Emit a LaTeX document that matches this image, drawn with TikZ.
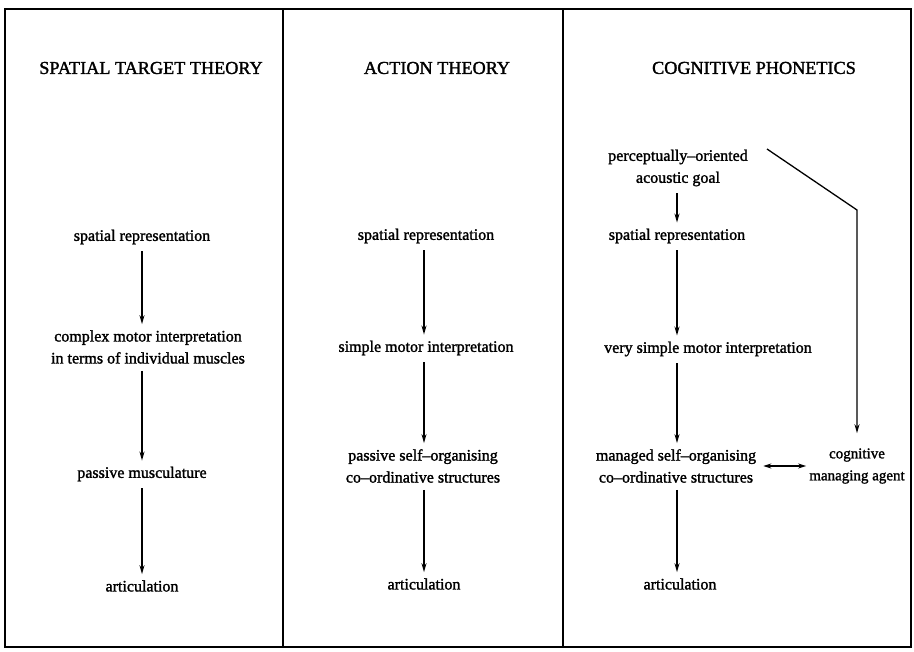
\documentclass[tikz,border=0pt]{standalone}
\usepackage{fontspec}
\setmainfont{Liberation Serif}
\newfontfamily\heavyserif[FakeBold=1.6,Ligatures=TeX]{Liberation Serif}
\usetikzlibrary{arrows.meta}
\begin{document}
\begin{tikzpicture}[x=1pt,y=-1pt,
  lbl/.style={inner sep=1pt,font=\heavyserif\fontsize{16}{22}\selectfont,align=center},
  head/.style={inner sep=1pt,font=\heavyserif\fontsize{18.2}{20}\selectfont},
  tip/.style={-{Stealth[length=9pt,width=5pt]}},
  flow/.style={line width=1.3pt,tip,shorten <=6pt,shorten >=5pt},
  frame/.style={line width=1.1pt}]
\useasboundingbox (0,0) rectangle (914,652);
% outer frame and column dividers
\draw[frame] (5,9) rectangle (911,647);
\draw[frame] (283,9) -- (283,647);
\draw[frame] (563,9) -- (563,647);

% headings
\node[head] (h1) at (151,68) {SPATIAL TARGET THEORY};
\node[head] (h2) at (437,68) {ACTION THEORY};
\node[head] (h3) at (754,68) {COGNITIVE PHONETICS};

% spatial target theory
\node[lbl] (a1) at (142,237) {spatial representation};
\node[lbl] (a2) at (148,347) {complex motor interpretation\\in terms of individual muscles};
\node[lbl] (a3) at (142,474) {passive musculature};
\node[lbl] (a4) at (142,586) {articulation};
\draw[flow] (a1.south -| 142,0) -- (a2.north -| 142,0);
\draw[flow] (a2.south -| 142,0) -- (a3.north -| 142,0);
\draw[flow] (a3.south -| 142,0) -- (a4.north -| 142,0);

% action theory
\node[lbl] (b1) at (426,236) {spatial representation};
\node[lbl] (b2) at (426,348) {simple motor interpretation};
\node[lbl] (b3) at (423,466) {passive self--organising\\co--ordinative structures};
\node[lbl] (b4) at (424,584) {articulation};
\draw[flow] (b1.south -| 424,0) -- (b2.north -| 424,0);
\draw[flow] (b2.south -| 424,0) -- (b3.north -| 424,0);
\draw[flow] (b3.south -| 424,0) -- (b4.north -| 424,0);

% cognitive phonetics
\node[lbl] (c0) at (678,168) {perceptually--oriented\\acoustic goal};
\node[lbl] (c1) at (677,236) {spatial representation};
\node[lbl,anchor=west] (c2) at (603,349) {very simple motor interpretation};
\node[lbl] (c3) at (676,466) {managed self--organising\\co--ordinative structures};
\node[lbl] (c4) at (680,584) {articulation};
\node[lbl,font=\heavyserif\fontsize{15}{22}\selectfont] (m) at (857,466) {cognitive\\managing agent};
\coordinate (bend) at (857,210);
\coordinate (goalend) at (767,149);
\draw[flow] (c0.south -| 677,0) -- (c1.north -| 677,0);
\draw[flow] (c1.south -| 677,0) -- (c2.north -| 677,0);
\draw[flow] (c2.south -| 677,0) -- (c3.north -| 677,0);
\draw[flow] (c3.south -| 677,0) -- (c4.north -| 677,0);
\draw[line width=1.3pt,tip,shorten >=14pt] (goalend) -- (bend) -- (m.north -| bend);
\draw[line width=1.3pt,{Stealth[length=8pt,width=5pt]}-{Stealth[length=8pt,width=5pt]},shorten <=6pt,shorten >=2pt]
  (c3.east |- 0,466) -- (m.west |- 0,466);
\end{tikzpicture}
\end{document}
